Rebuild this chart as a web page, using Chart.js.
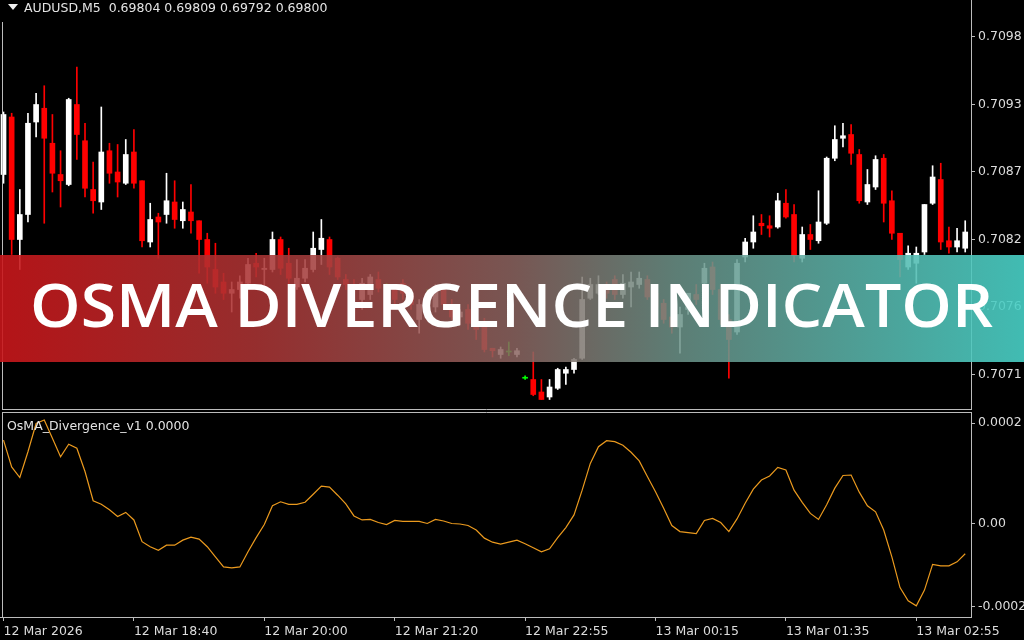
<!DOCTYPE html>
<html>
<head>
<meta charset="utf-8">
<script src="https://cdn.jsdelivr.net/npm/chart.js@4.4.1/dist/chart.umd.min.js"></script>
<style>
  html, body { margin: 0; padding: 0; background: #000; }
  #wrap { position: relative; width: 1024px; height: 640px; overflow: hidden; background: #000; font-family: "DejaVu Sans", sans-serif; }
  canvas { position: absolute; left: 0; }
  #price { top: 0; }
  #osc { top: 410px; }
  .lbl { position: absolute; color: #e4e4e4; font-size: 12.5px; line-height: 15px; white-space: pre; }
  #tri { position: absolute; left: 8px; top: 4px; width: 0; height: 0;
         border-left: 5px solid transparent; border-right: 5px solid transparent; border-top: 6px solid #f0f0f0; }
  #banner { position: absolute; left: 0; top: 255px; width: 1024px; height: 107px;
            background: linear-gradient(90deg,
              rgba(200,22,26,0.90) 0%,
              rgba(170,52,52,0.88) 25%,
              rgba(140,100,96,0.86) 50%,
              rgba(108,146,136,0.86) 66%,
              rgba(72,208,198,0.90) 100%); }
  #bannerText { position: absolute; left: 30px; top: 19px; font-family: "Open Sans", sans-serif; font-weight: 600;
                font-size: 60px; line-height: 60px; color: #fff; white-space: nowrap; transform-origin: 0 0; }
</style>
</head>
<body>
<div id="wrap">
  <canvas id="price" width="1024" height="410"></canvas>
  <canvas id="osc" width="1024" height="230"></canvas>
  <div id="tri"></div>
  <div class="lbl" style="left:24px; top:0px;">AUDUSD,M5  0.69804 0.69809 0.69792 0.69800</div>
  <div class="lbl" style="left:7px; top:418px;">OsMA_Divergence_v1 0.0000</div>
  <div id="banner"><span id="bannerText">OSMA DIVERGENCE INDICATOR</span></div>
</div>
<script>
// AUDUSD M5 candles, oldest first
const opens = [
  0.70870,0.70916,0.70818,0.70838,0.70912,0.70923,0.70895,0.70870,0.70862,0.70926,
  0.70897,0.70858,0.70848,0.70889,0.70872,0.70863,0.70888,0.70865,0.70816,0.70836,
  0.70838,0.70848,0.70833,0.70840,0.70833,0.70818,0.70794,0.70784,0.70775,0.70778,
  0.70783,0.70799,0.70794,0.70794,0.70818,0.70799,0.70780,0.70787,0.70794,0.70810,
  0.70818,0.70803,0.70786,0.70782,0.70770,0.70774,0.70786,0.70770,0.70778,0.70783,
  0.70774,0.70754,0.70768,0.70764,0.70778,0.70762,0.70756,0.70762,0.70751,0.70748,
  0.70731,0.70726,0.70728,0.70726,0.70707,0.70706,0.70696,0.70692,0.70699,0.70711,
  0.70714,0.70723,0.70771,0.70775,0.70779,0.70786,0.70774,0.70780,0.70782,0.70786,
  0.70775,0.70767,0.70756,0.70748,0.70762,0.70774,0.70783,0.70796,0.70778,0.70754,
  0.70744,0.70804,0.70816,0.70831,0.70829,0.70828,0.70847,0.70838,0.70803,0.70822,
  0.70817,0.70831,0.70883,0.70899,0.70902,0.70886,0.70848,0.70860,0.70883,0.70849,
  0.70823,0.70796,0.70799,0.70808,0.70847,0.70866,0.70817,0.70812,0.70811
];
const highs = [
  0.70920,0.70919,0.70858,0.70919,0.70935,0.70941,0.70918,0.70889,0.70931,0.70956,
  0.70911,0.70880,0.70924,0.70895,0.70894,0.70898,0.70906,0.70865,0.70847,0.70839,
  0.70871,0.70865,0.70848,0.70862,0.70833,0.70823,0.70815,0.70791,0.70784,0.70789,
  0.70803,0.70807,0.70803,0.70824,0.70820,0.70811,0.70802,0.70802,0.70824,0.70834,
  0.70820,0.70804,0.70790,0.70786,0.70787,0.70790,0.70792,0.70783,0.70782,0.70786,
  0.70779,0.70770,0.70778,0.70782,0.70779,0.70770,0.70762,0.70766,0.70755,0.70755,
  0.70731,0.70732,0.70736,0.70731,0.70709,0.70728,0.70706,0.70706,0.70715,0.70716,
  0.70723,0.70788,0.70787,0.70789,0.70784,0.70789,0.70790,0.70792,0.70792,0.70789,
  0.70778,0.70770,0.70760,0.70764,0.70775,0.70782,0.70799,0.70800,0.70782,0.70758,
  0.70802,0.70819,0.70837,0.70838,0.70837,0.70855,0.70858,0.70846,0.70828,0.70830,
  0.70857,0.70884,0.70909,0.70911,0.70910,0.70890,0.70874,0.70885,0.70886,0.70857,
  0.70823,0.70813,0.70812,0.70846,0.70877,0.70879,0.70828,0.70827,0.70833
];
const lows = [
  0.70863,0.70806,0.70794,0.70832,0.70900,0.70831,0.70856,0.70844,0.70861,0.70882,
  0.70852,0.70839,0.70842,0.70863,0.70852,0.70862,0.70859,0.70812,0.70812,0.70803,
  0.70831,0.70827,0.70827,0.70823,0.70791,0.70783,0.70775,0.70770,0.70760,0.70771,
  0.70780,0.70788,0.70780,0.70792,0.70790,0.70776,0.70778,0.70784,0.70792,0.70798,
  0.70790,0.70786,0.70778,0.70774,0.70762,0.70770,0.70776,0.70755,0.70766,0.70770,
  0.70762,0.70743,0.70758,0.70760,0.70762,0.70754,0.70750,0.70746,0.70738,0.70728,
  0.70724,0.70723,0.70725,0.70724,0.70706,0.70693,0.70690,0.70690,0.70698,0.70702,
  0.70711,0.70722,0.70770,0.70774,0.70771,0.70770,0.70771,0.70764,0.70779,0.70770,
  0.70762,0.70751,0.70743,0.70727,0.70758,0.70766,0.70778,0.70774,0.70750,0.70707,
  0.70742,0.70800,0.70811,0.70822,0.70820,0.70827,0.70835,0.70800,0.70800,0.70810,
  0.70815,0.70830,0.70881,0.70892,0.70878,0.70847,0.70846,0.70858,0.70832,0.70818,
  0.70788,0.70794,0.70783,0.70806,0.70846,0.70810,0.70807,0.70808,0.70808
];
const closes = [
  0.70918,0.70818,0.70838,0.70911,0.70926,0.70899,0.70871,0.70865,0.70930,0.70902,
  0.70859,0.70849,0.70888,0.70871,0.70864,0.70886,0.70863,0.70817,0.70834,0.70832,
  0.70849,0.70834,0.70842,0.70833,0.70818,0.70796,0.70780,0.70775,0.70778,0.70784,
  0.70798,0.70796,0.70795,0.70818,0.70795,0.70787,0.70787,0.70795,0.70811,0.70819,
  0.70796,0.70788,0.70782,0.70780,0.70783,0.70788,0.70779,0.70770,0.70770,0.70775,
  0.70766,0.70766,0.70768,0.70778,0.70766,0.70756,0.70760,0.70751,0.70746,0.70730,
  0.70729,0.70730,0.70728,0.70729,0.70707,0.70694,0.70690,0.70700,0.70714,0.70714,
  0.70722,0.70770,0.70782,0.70782,0.70775,0.70774,0.70783,0.70784,0.70787,0.70772,
  0.70764,0.70754,0.70748,0.70758,0.70775,0.70770,0.70795,0.70778,0.70754,0.70738,
  0.70799,0.70816,0.70824,0.70829,0.70827,0.70849,0.70836,0.70805,0.70822,0.70818,
  0.70832,0.70883,0.70898,0.70901,0.70887,0.70849,0.70862,0.70882,0.70847,0.70823,
  0.70802,0.70807,0.70807,0.70846,0.70868,0.70816,0.70812,0.70817,0.70824
];

// OsMA_Divergence_v1 histogram-line values per bar
const osmaValues = [
  1.66e-4, 1.13e-4, 0.92e-4, 1.43e-4, 1.99e-4, 2.06e-4, 1.70e-4, 1.33e-4, 1.58e-4, 1.50e-4,
  1.04e-4, 0.46e-4, 0.39e-4, 0.28e-4, 0.15e-4, 0.23e-4, 0.08e-4, -0.35e-4, -0.45e-4, -0.52e-4,
  -0.42e-4, -0.42e-4, -0.32e-4, -0.26e-4, -0.30e-4, -0.45e-4, -0.65e-4, -0.85e-4, -0.87e-4, -0.85e-4,
  -0.55e-4, -0.27e-4, -0.01e-4, 0.36e-4, 0.44e-4, 0.39e-4, 0.39e-4, 0.43e-4, 0.59e-4, 0.75e-4,
  0.73e-4, 0.57e-4, 0.40e-4, 0.16e-4, 0.08e-4, 0.09e-4, 0.03e-4, -0.01e-4, 0.07e-4, 0.05e-4,
  0.05e-4, 0.05e-4, 0.01e-4, 0.09e-4, 0.06e-4, 0.01e-4, 0.00e-4, -0.03e-4, -0.12e-4, -0.28e-4,
  -0.36e-4, -0.40e-4, -0.36e-4, -0.32e-4, -0.39e-4, -0.47e-4, -0.55e-4, -0.49e-4, -0.27e-4, -0.07e-4,
  0.18e-4, 0.67e-4, 1.20e-4, 1.53e-4, 1.65e-4, 1.63e-4, 1.56e-4, 1.42e-4, 1.25e-4, 0.94e-4,
  0.64e-4, 0.31e-4, -0.03e-4, -0.15e-4, -0.17e-4, -0.19e-4, 0.07e-4, 0.11e-4, 0.03e-4, -0.15e-4,
  0.10e-4, 0.41e-4, 0.69e-4, 0.87e-4, 0.95e-4, 1.12e-4, 1.07e-4, 0.67e-4, 0.43e-4, 0.21e-4,
  0.09e-4, 0.38e-4, 0.71e-4, 0.96e-4, 0.97e-4, 0.63e-4, 0.36e-4, 0.24e-4, -0.12e-4, -0.65e-4,
  -1.26e-4, -1.52e-4, -1.62e-4, -1.31e-4, -0.80e-4, -0.83e-4, -0.83e-4, -0.75e-4, -0.59e-4
];

// Price axis levels and the time labels on the bar axis
const priceTicks = [0.70980, 0.70926, 0.70872, 0.70818, 0.70764, 0.70710];
const osmaTicks = [0.0002, 0, -0.000164];
const osmaTickLabels = ['0.0002', '0.00', '-0.0002'];
const timeTickBars = [0, 16, 32, 48, 64, 80, 96, 112];
const timeTickLabels = ['12 Mar 2026', '12 Mar 18:40', '12 Mar 20:00', '12 Mar 21:20',
                        '12 Mar 22:55', '13 Mar 00:15', '13 Mar 01:35', '13 Mar 02:55'];

const AXIS_FONT = { family: 'DejaVu Sans', size: 12.5 };
const TEXT = '#dcdcdc';
const FRAME = '#bcbcbc';
const X_MIN = -0.43, X_MAX = 118.71;

function candleColor(i) {
  if (closes[i] > opens[i]) return '#ffffff';
  if (closes[i] < opens[i]) return '#ff0000';
  return '#00ff00';
}
const colors = opens.map((_, i) => candleColor(i));

function fixedAxisWidth(w) {
  return (scale) => { scale.width = w; scale.paddingTop = 0; scale.paddingBottom = 0; };
}

const framePlugin = {
  id: 'frame',
  afterDraw(chart, args, opts) {
    const ctx = chart.ctx, a = chart.chartArea;
    ctx.save();
    ctx.strokeStyle = FRAME;
    ctx.lineWidth = 1;
    ctx.beginPath();
    ctx.moveTo(2.5, opts.leftTop);
    ctx.lineTo(2.5, a.bottom);
    if (opts.bottom) { ctx.moveTo(2, a.bottom - 0.5); ctx.lineTo(a.right, a.bottom - 0.5); }
    if (opts.top) { ctx.moveTo(2, a.top + 0.5); ctx.lineTo(a.right, a.top + 0.5); }
    ctx.stroke();
    ctx.restore();
  }
};

Chart.defaults.animation = false;
Chart.defaults.font.family = 'DejaVu Sans';

// Candlestick panel: wicks and bodies as floating bars
new Chart(document.getElementById('price'), {
  type: 'bar',
  data: {
    datasets: [
      {
        data: opens.map((o, i) => ({ x: i, y: [o, closes[i]] })),
        backgroundColor: colors,
        barThickness: 5,
        minBarLength: 1,
        grouped: false,
        borderWidth: 0
      },
      {
        data: lows.map((l, i) => ({ x: i, y: [l, highs[i]] })),
        backgroundColor: colors,
        barThickness: 1,
        grouped: false,
        borderWidth: 0
      }
    ]
  },
  options: {
    responsive: false,
    devicePixelRatio: 1,
    layout: { padding: 0 },
    plugins: { legend: { display: false }, tooltip: { enabled: false },
               frame: { leftTop: 22, bottom: true, top: false } },
    scales: {
      x: { type: 'linear', display: false, min: X_MIN, max: X_MAX, offset: false, grid: { offset: false } },
      y: {
        type: 'linear', position: 'right',
        min: 0.706816, max: 0.710096,
        afterFit: fixedAxisWidth(53),
        afterBuildTicks: (s) => { s.ticks = priceTicks.map(v => ({ value: v })); },
        ticks: { color: TEXT, font: AXIS_FONT, padding: 3, callback: (v) => Number(v).toFixed(4) },
        grid: { drawOnChartArea: false, tickLength: 4, color: FRAME },
        border: { display: true, color: FRAME }
      }
    }
  },
  plugins: [framePlugin]
});

// Oscillator panel
new Chart(document.getElementById('osc'), {
  type: 'line',
  data: {
    datasets: [{
      data: osmaValues.map((v, i) => ({ x: i, y: v })),
      borderColor: '#eb9a1e',
      borderWidth: 1.2,
      pointRadius: 0,
      tension: 0,
      fill: false
    }]
  },
  options: {
    responsive: false,
    devicePixelRatio: 1,
    layout: { padding: { top: 2, left: 0, right: 0, bottom: 0 } },
    plugins: { legend: { display: false }, tooltip: { enabled: false },
               frame: { leftTop: 2, bottom: false, top: true } },
    scales: {
      x: {
        type: 'linear', position: 'bottom', min: X_MIN, max: X_MAX, offset: false,
        afterFit: (s) => { s.height = 23; s.paddingLeft = 0; s.paddingRight = 0; },
        afterBuildTicks: (s) => { s.ticks = timeTickBars.map(v => ({ value: v })); },
        ticks: {
          color: TEXT, font: AXIS_FONT, padding: 3, align: 'start', autoSkip: false, maxRotation: 0,
          callback: (v) => timeTickLabels[timeTickBars.indexOf(v)]
        },
        grid: { drawOnChartArea: false, offset: false, tickLength: 4, color: FRAME },
        border: { display: true, color: FRAME }
      },
      y: {
        type: 'linear', position: 'right',
        min: -0.0001842, max: 0.0002218,
        afterFit: fixedAxisWidth(53),
        afterBuildTicks: (s) => { s.ticks = osmaTicks.map(v => ({ value: v })); },
        ticks: { color: TEXT, font: AXIS_FONT, padding: 3,
                 callback: (v, i) => osmaTickLabels[i] },
        grid: { drawOnChartArea: false, tickLength: 4, color: FRAME },
        border: { display: true, color: FRAME }
      }
    }
  },
  plugins: [framePlugin]
});

// Stretch the banner title across the strip
const title = document.getElementById('bannerText');
const tw = title.getBoundingClientRect().width;
title.style.transform = 'scaleX(' + (963 / tw) + ')';
</script>
</body>
</html>
